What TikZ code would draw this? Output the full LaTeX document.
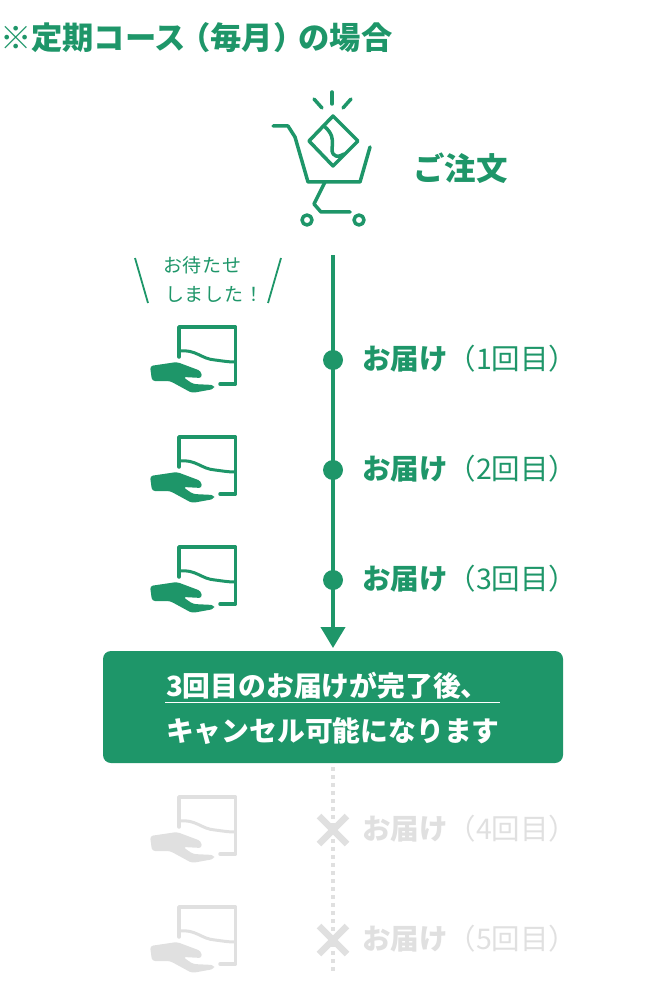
\documentclass[tikz,border=0pt]{standalone}
\usepackage{fontspec}
\usetikzlibrary{calc}
\usetikzlibrary{arrows.meta}
\setmainfont{Noto Sans CJK JP}
\newfontfamily\jpsmall[LetterSpace=5]{Noto Sans CJK JP}
\definecolor{brand}{HTML}{1E9669}
\definecolor{faded}{HTML}{E0E0E0}
\tikzset{
	every node/.style={inner sep=0pt,outer sep=0pt},
	icon/.style={
		line width=3.5pt,
		line cap=round,
		line join=round,
	},
	pics/hand/.style={
		code={
			\draw[icon,#1] (-29,-3) -- (-29,-33) -- (27.5,-33) -- (27.5,24) -- (12,24);
			\draw[icon,#1,line width=3pt] (-29,-9) .. controls (-12,-11) and (-7,-1) .. (7,0) .. controls (15,1) and (20,2) .. (27,2);
			\fill[#1,rounded corners=3pt] (-58,6) -- (-31,2) -- (-7,11) -- (-6,18) -- (-25,17) -- (-15,24) -- (6,25) -- (6,29) -- (-16,33) -- (-38,21) -- (-56,21) -- cycle;
		}
	},
	pics/cart/.style={
		code={
			\draw[icon,#1] (273,126) -- (288,126) -- (295,137) -- (308,182) -- (360,182) -- (370,147);
			\draw[icon,#1] (325,182) -- (314,204) -- (321,212) -- (350,212);
			\draw[icon,#1] (307,220) circle (5);
			\draw[icon,#1] (359,220) circle (5);
			\draw[icon,#1] (333,116) -- (358,141) -- (333,166) -- (309,141) -- cycle;
			\draw[icon,#1] (325,127) .. controls (340,140) and (326,152) .. (336,156) .. controls (340,157) and (341,155) .. (344,154);
			\draw[icon,#1] (332,92) -- (332,104);
			\draw[icon,#1] (314,99) -- (322,108);
			\draw[icon,#1] (351,99) -- (343,108);
		}
	},
	pics/cross/.style={
		code={
			\draw[faded,line width=6.5pt] (-14,-14) -- (14,14);
			\draw[faded,line width=6.5pt] (14,-14) -- (-14,14);
		}
	},
	title/.style={
		anchor=west,
		text=brand,
		font=\fontsize{31.3}{36}\selectfont\bfseries,
	},
	order/.style={
		anchor=west,
		text=brand,
		font=\fontsize{31.5}{36}\selectfont\bfseries,
	},
	speech/.style={
		anchor=west,
		text=brand,
		font=\fontsize{19}{22}\selectfont\jpsmall,
	},
	drop/.style={
		anchor=west,
		font=\fontsize{28.5}{32}\selectfont,
	},
	banner/.style={
		anchor=west,
		text=white,
		font=\fontsize{27.8}{32}\selectfont\bfseries,
	},
	dot/.style={
		circle,
		fill=brand,
		minimum size=20pt,
	},
	timeline/.style={
		brand,
		line width=4pt,
		-{Triangle[length=21pt,width=24pt]},
	},
	stopped/.style={
		faded,
		line width=4pt,
		dash pattern=on 4pt off 4pt,
	},
}

\begin{document}
\begin{tikzpicture}[x=1pt,y=-1pt]
	\useasboundingbox (0,0) rectangle (666,992);

	\node[title] (heading) at (0,38) {※定期コース\kern-7pt（毎月）\kern-6ptの場合};

	\pic at (0,0) {cart=brand};
	\node[order] (ordertxt) at (413,168) {ご注文};
	\coordinate (start) at (333,255);

	% speech bubble
	\coordinate (leftA) at (135,258);
	\coordinate (leftB) at (148,303);
	\coordinate (rightA) at (281,258);
	\coordinate (rightB) at (268,303);
	\draw[brand,line width=1.8pt] (leftA) -- (leftB);
	\draw[brand,line width=1.8pt] (rightA) -- (rightB);
	\node[speech] (waitA) at (163,265) {お待たせ};
	\node[speech] (waitB) at (165,294) {しました！};

	\node[dot] (dotA) at (333,360) {};
	\node[dot] (dotB) at (333,470) {};
	\node[dot] (dotC) at (333,580) {};

	\pic at (208,360) {hand=brand};
	\pic at (208,470) {hand=brand};
	\pic at (208,580) {hand=brand};

	\node[drop,text=brand] (labelA) at (362,359) {\textbf{お届け}（1回目）};
	\node[drop,text=brand] (labelB) at (362,469) {\textbf{お届け}（2回目）};
	\node[drop,text=brand] (labelC) at (362,579) {\textbf{お届け}（3回目）};

	\node[fill=brand,rounded corners=8pt,minimum width=460pt,minimum height=112pt] (box) at (333,707) {};
	\draw[timeline,shorten >=3pt] (start) -- (box.north);

	\node[banner] (boxA) at (166,686) {3回目のお届けが完了後、};
	\node[banner] (boxB) at (166,731) {キャンセル可能になります};
	\coordinate (ruleA) at (165,702.5);
	\coordinate (ruleB) at (500,702.5);
	\draw[white,line width=1.5pt] (ruleA) -- (ruleB);

	% after the third one
	\coordinate (stop) at (333,972);
	\draw[stopped,shorten <=4pt] (box.south) -- (stop);

	\pic at (208,830) {hand=faded};
	\pic at (208,940) {hand=faded};
	\pic at (333,830) {cross};
	\pic at (333,940) {cross};

	\node[drop,text=faded] (labelD) at (362,829) {\textbf{お届け}（4回目）};
	\node[drop,text=faded] (labelE) at (362,939) {\textbf{お届け}（5回目）};
\end{tikzpicture}
\end{document}
